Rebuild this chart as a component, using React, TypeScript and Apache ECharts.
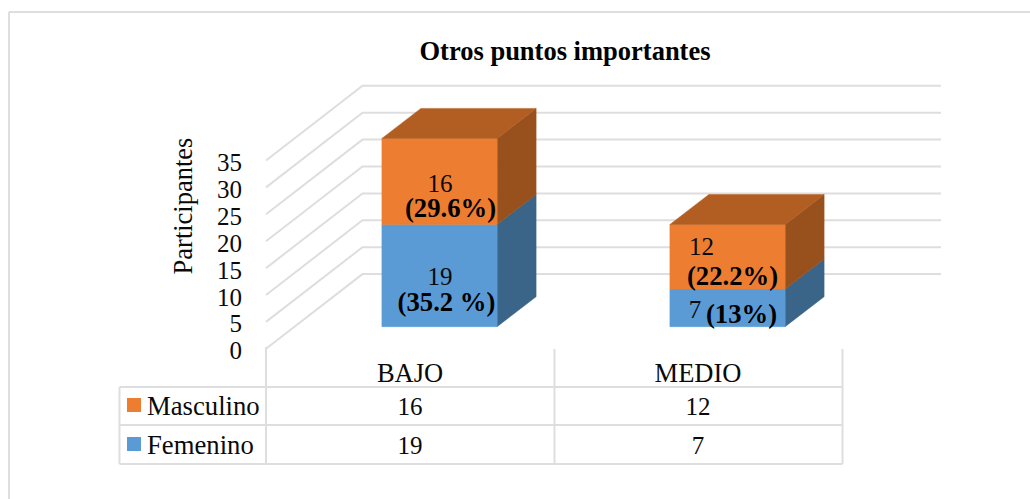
import React, { useEffect, useRef } from "react";
import * as echarts from "echarts";

const categories = ["BAJO", "MEDIO"];
const masculino = [16, 12];
const femenino = [19, 7];
const masculinoPct = ["(29.6%)", "(22.2%)"];
const femeninoPct = ["(35.2 %)", "(13%)"];
const yTicks = [0, 5, 10, 15, 20, 25, 30, 35];
const titleText = "Otros puntos importantes";
const yName = "Participantes";

const FONT = '"Liberation Serif", "Times New Roman", serif';
const INK = "#0a0a0a";
const LINE = "#DEDEDE";

// layout (pixels)
const GRID = { left: 266, right: 842, top: 160.5, bottom: 348.8 };
const WALL = { dx: 96.5, dy: -74.7, right: 941 };
const BAR = { offset: 29.5, widthRatio: 0.4, dx: 39, dy: -30, floorLift: 22.1 };
const ROW_Y = { masc: 406, fem: 445 };
const mascLabelPos = [
  { vx: 440, vy: 183, px: 450.5, py: 208 },
  { vx: 701.5, vy: 246, px: 732.5, py: 276 },
];
const femLabelPos = [
  { vx: 440, vy: 276, px: 446.5, py: 302 },
  { vx: 695, vy: 309, px: 741.5, py: 314 },
];

const txt = (text: string, x: number, y: number, extra: any = {}) => ({
  type: "text",
  silent: true,
  z2: 50,
  x,
  y,
  style: {
    text,
    align: "center",
    verticalAlign: "middle",
    fill: INK,
    fontFamily: FONT,
    fontSize: 25,
    ...extra,
  },
});

const poly = (points: number[][], fill: string) => ({
  type: "polygon",
  shape: { points },
  style: { fill, stroke: fill, lineWidth: 0.5 },
});

function makeBarSeries(
  name: string,
  values: number[],
  bases: number[],
  pct: string[],
  pos: any[],
  rowY: number,
  front: string,
  side: string,
  top: string | null
) {
  return {
    type: "custom",
    name,
    clip: false,
    coordinateSystem: "cartesian2d",
    data: values.map((v, i) => [i, v, bases[i]]),
    renderItem: (params: any, api: any) => {
      const i = api.value(0);
      const v = api.value(1);
      const b = api.value(2);
      const band = api.size([1, 0])[0];
      const cx = api.coord([i, 0])[0] + BAR.offset;
      const w = band * BAR.widthRatio;
      const x0 = cx - w / 2;
      const x1 = cx + w / 2;
      const y0 = api.coord([i, b])[1] - BAR.floorLift;
      const y1 = api.coord([i, b + v])[1] - BAR.floorLift;
      const children: any[] = [
        poly([[x1, y0], [x1 + BAR.dx, y0 + BAR.dy], [x1 + BAR.dx, y1 + BAR.dy], [x1, y1]], side),
        poly([[x0, y0], [x1, y0], [x1, y1], [x0, y1]], front),
      ];
      if (top) {
        children.push(
          poly([[x0, y1], [x1, y1], [x1 + BAR.dx, y1 + BAR.dy], [x0 + BAR.dx, y1 + BAR.dy]], top)
        );
      }
      const p = pos[i];
      children.push(txt(String(v), p.vx, p.vy));
      children.push(txt(pct[i], p.px, p.py, { fontWeight: "bold", fontSize: 26.7, fill: "#000" }));
      children.push(txt(String(v), api.coord([i, 0])[0], rowY));
      return { type: "group", children };
    },
  };
}

const wallSeries = {
  type: "custom",
  name: "grid",
  clip: false,
  coordinateSystem: "cartesian2d",
  silent: true,
  data: yTicks.map((t) => [0, t]),
  renderItem: (params: any, api: any) => {
    const y = api.coord([0, api.value(1)])[1];
    return {
      type: "polyline",
      shape: {
        points: [
          [GRID.left, y],
          [GRID.left + WALL.dx, y + WALL.dy],
          [WALL.right, y + WALL.dy],
        ],
      },
      style: { stroke: LINE, lineWidth: 2, fill: "none" },
    };
  },
};

const hline = (x1: number, y1: number, x2: number, y2: number, lw = 2) => ({
  type: "line",
  shape: { x1, y1, x2, y2 },
  style: { stroke: LINE, lineWidth: lw },
  silent: true,
});

export default function App() {
  const ref = useRef<HTMLDivElement>(null);
  useEffect(() => {
    const chart = echarts.init(ref.current!, null, { renderer: "svg" });
    const bases0 = categories.map(() => 0);
    chart.setOption({
      animation: false,
      backgroundColor: "#ffffff",
      title: {
        text: titleText,
        left: 560,
        top: 32,
        textAlign: "center",
        textStyle: { fontFamily: FONT, fontSize: 26.5, fontWeight: "bold", color: "#000" },
      },
      grid: {
        left: GRID.left,
        width: GRID.right - GRID.left,
        top: GRID.top,
        height: GRID.bottom - GRID.top,
      },
      xAxis: {
        type: "category",
        data: categories,
        axisLine: { show: false },
        axisTick: { show: false },
        axisLabel: { margin: 11, fontFamily: FONT, fontSize: 26.5, color: INK },
      },
      yAxis: {
        type: "value",
        min: 0,
        max: 35,
        interval: 5,
        axisLine: { show: false },
        axisTick: { show: false },
        splitLine: { show: false },
        axisLabel: {
          margin: 24,
          formatter: "{n|{value}}",
          rich: {
            n: { fontFamily: FONT, fontSize: 25, color: INK, padding: [4, 0, 0, 0] },
          },
        },
      },
      series: [
        wallSeries,
        makeBarSeries("Femenino", femenino, bases0, femeninoPct, femLabelPos, ROW_Y.fem, "#5B9BD5", "#3A6488", null),
        makeBarSeries("Masculino", masculino, femenino, masculinoPct, mascLabelPos, ROW_Y.masc, "#ED7D31", "#98511C", "#B25E23"),
      ],
      graphic: [
        hline(9, 12, 1030, 12),
        hline(9, 12, 9, 499),
        hline(GRID.left, 347, GRID.left, 464),
        hline(554.5, 349, 554.5, 464),
        hline(842.5, 349, 842.5, 464),
        hline(119.5, 387, 842.5, 387),
        hline(119.5, 425, 842.5, 425),
        hline(119.5, 464, 842.5, 464),
        hline(119.5, 387, 119.5, 464),
        { type: "rect", shape: { x: 127, y: 398, width: 14, height: 14 }, style: { fill: "#ED7D31" }, silent: true },
        { type: "rect", shape: { x: 127, y: 437, width: 14, height: 14 }, style: { fill: "#5B9BD5" }, silent: true },
        txt("Masculino", 147, ROW_Y.masc, { align: "left", fontSize: 26.7 }),
        txt("Femenino", 147, ROW_Y.fem, { align: "left", fontSize: 26.7 }),
        { ...txt(yName, 183, 206, { fontSize: 26.5 }), rotation: Math.PI / 2 },
      ],
    });
    return () => chart.dispose();
  }, []);
  return (
    <div
      ref={ref}
      style={{ position: "absolute", left: 0, top: 0, width: 1030, height: 499 }}
    />
  );
}
